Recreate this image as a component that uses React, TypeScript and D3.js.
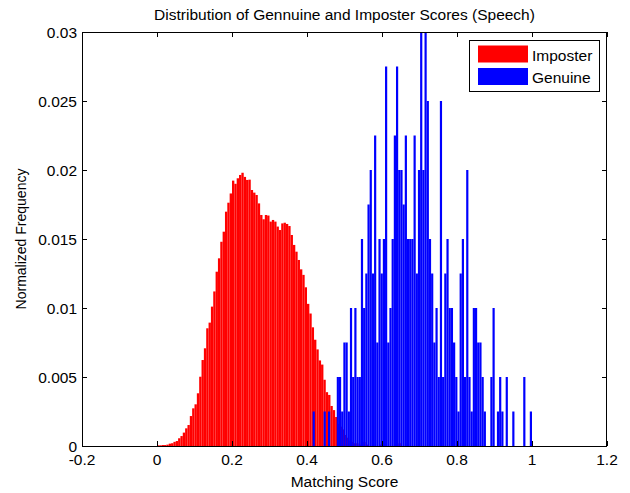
import React from "react";
import * as d3 from "d3";

// ---- data ----
const title = "Distribution of Gennuine and Imposter Scores (Speech)";
const xLabel = "Matching Score";
const yLabel = "Normalized Frequency";
const xTicks = [-0.2, 0, 0.2, 0.4, 0.6, 0.8, 1, 1.2];
const yTicks = [0, 0.005, 0.01, 0.015, 0.02, 0.025, 0.03];
const seriesNames = ["Imposter", "Genuine"];
const seriesColors = ["#ff0000", "#0000ff"];

// Imposter histogram: bins start at 0, width 0.00625
const imposterStart = 0;
const imposterBinWidth = 0.00625;
const imposter = [
  0.00005, 0.00005, 0.00007, 0.00007, 0.0001, 0.00017, 0.0002, 0.0003, 0.00036, 0.00056,
  0.00072, 0.00097, 0.00128, 0.00152, 0.00217, 0.00273, 0.00302, 0.00382, 0.00502, 0.00623,
  0.00708, 0.00853, 0.00894, 0.0101, 0.0112, 0.01263, 0.0136, 0.0148, 0.01553, 0.01698,
  0.01763, 0.0183, 0.01923, 0.019, 0.0194, 0.01964, 0.0198, 0.0195, 0.01928, 0.0193,
  0.01855, 0.01836, 0.01819, 0.01758, 0.01674, 0.01643, 0.01674, 0.0167, 0.01626, 0.01638,
  0.01626, 0.0159, 0.01565, 0.01613, 0.01618, 0.01609, 0.01594, 0.01529, 0.01457, 0.01408,
  0.01348, 0.0128, 0.0124, 0.0115, 0.0103, 0.0096, 0.0086, 0.0077, 0.007, 0.0062,
  0.0059, 0.0048, 0.0039, 0.0037, 0.0029, 0.0026, 0.0021, 0.0016, 0.0014, 0.0012,
  0.0008, 0.0006, 0.0004, 0.0003, 0.0002, 0.0002, 0.0001, 0.0003, 0.0003, 0.0001,
  0, 0, 0, 0, 0, 0.0001, 0, 0, 0, 0,
  0, 0, 0.0001, 0.0002, 0,
];

// Genuine histogram: bins start at 0.415, width 0.00585
const genuineStart = 0.415;
const genuineBinWidth = 0.00585;
const genuine = [
  0.0025, 0, 0, 0, 0, 0.0025, 0, 0.0025, 0, 0,
  0, 0.005, 0.005, 0.0025, 0.0075, 0.0075, 0.0025, 0.01, 0.005, 0.01,
  0.005, 0.005, 0.015, 0.01, 0.0125, 0.0175, 0.02, 0.0125, 0.0225, 0.0075,
  0.015, 0.0125, 0.015, 0.0275, 0.0075, 0.01, 0.015, 0.0225, 0.0275, 0.02,
  0.02, 0.0175, 0.0225, 0.015, 0.015, 0.015, 0.0225, 0.0125, 0.02, 0.0325,
  0.02, 0.0325, 0.025, 0.015, 0.0125, 0.0075, 0.01, 0.005, 0.025, 0.005,
  0.0125, 0.015, 0.01, 0.01, 0.0075, 0.005, 0.0025, 0.0125, 0.015, 0.005,
  0.02, 0.005, 0.0025, 0.01, 0.01, 0.0075, 0.0075, 0.005, 0.0025, 0,
  0, 0.005, 0.01, 0, 0.0025, 0.005, 0.0025, 0, 0.005, 0,
  0, 0.0025, 0, 0, 0, 0, 0.005, 0, 0, 0.0025,
];

const W = 630;
const H = 493;
const m = { left: 82, right: 23, top: 32, bottom: 47 };
const FONT = "'Liberation Sans', Arial, Helvetica, sans-serif";

export default function App() {
  const x = d3.scaleLinear().domain([-0.2, 1.2]).range([m.left, W - m.right]);
  const y = d3.scaleLinear().domain([0, 0.03]).range([H - m.bottom, m.top]);
  const [x0, x1] = x.range();
  const [y0, y1] = y.range();
  const tick = 5;

  const bars = (vals: number[], start: number, bw: number, color: string, key: string) =>
    vals.map((v, i) =>
      v > 0 ? (
        <rect
          key={key + i}
          x={x(start + i * bw)}
          y={y(v)}
          width={x(start + (i + 1) * bw) - x(start + i * bw)}
          height={y(0) - y(v)}
          fill={color}
        />
      ) : null
    );

  return (
    <svg
      width={W}
      height={H}
      style={{ position: "absolute", left: 0, top: 0, display: "block", background: "#fff" }}
      fontFamily={FONT}
    >
      <rect x={0} y={0} width={W} height={H} fill="#fff" />
      <defs>
        <clipPath id="plot">
          <rect x={x0} y={y1} width={x1 - x0} height={y0 - y1} />
        </clipPath>
      </defs>
      <g clipPath="url(#plot)">
        {bars(imposter, imposterStart, imposterBinWidth, seriesColors[0], "r")}
        {bars(genuine, genuineStart, genuineBinWidth, seriesColors[1], "b")}
      </g>
      {/* ticks */}
      <g stroke="#000" strokeWidth={1}>
        {xTicks.map((t) => (
          <g key={"xt" + t}>
            <line x1={Math.round(x(t)) + 0.5} x2={Math.round(x(t)) + 0.5} y1={y0} y2={y0 - tick} />
            <line x1={Math.round(x(t)) + 0.5} x2={Math.round(x(t)) + 0.5} y1={y1} y2={y1 + tick} />
          </g>
        ))}
        {yTicks.map((t) => (
          <g key={"yt" + t}>
            <line x1={x0} x2={x0 + tick} y1={Math.round(y(t)) + 0.5} y2={Math.round(y(t)) + 0.5} />
            <line x1={x1} x2={x1 - tick} y1={Math.round(y(t)) + 0.5} y2={Math.round(y(t)) + 0.5} />
          </g>
        ))}
      </g>
      <rect
        x={x0 + 0.5}
        y={y1 + 0.5}
        width={x1 - x0 - 1}
        height={y0 - y1}
        fill="none"
        stroke="#000"
        strokeWidth={1}
      />
      {/* tick labels */}
      <g fontSize={15.5} fill="#000">
        {xTicks.map((t) => (
          <text key={"xl" + t} x={x(t)} y={y0 + 19} textAnchor="middle">
            {d3.format("~g")(t).replace("−", "-")}
          </text>
        ))}
        {yTicks.map((t) => (
          <text key={"yl" + t} x={x0 - 5} y={y(t) + 5.5} textAnchor="end">
            {d3.format("~g")(t)}
          </text>
        ))}
      </g>
      <text x={(x0 + x1) / 2} y={20} textAnchor="middle" fontSize={15.5}>
        {title}
      </text>
      <text x={(x0 + x1) / 2} y={H - 6} textAnchor="middle" fontSize={15.5}>
        {xLabel}
      </text>
      <text
        transform={`translate(26,${(y0 + y1) / 2}) rotate(-90)`}
        textAnchor="middle"
        fontSize={14}
      >
        {yLabel}
      </text>
      {/* legend */}
      <g>
        <rect x={469.5} y={40.5} width={130} height={51} fill="#fff" stroke="#000" strokeWidth={1} />
        {seriesNames.map((n, i) => (
          <g key={n}>
            <rect x={478} y={45.5 + i * 22.5} width={50} height={17} fill={seriesColors[i]} />
            <text x={532} y={60.5 + i * 22.5} fontSize={15.5}>
              {n}
            </text>
          </g>
        ))}
      </g>
    </svg>
  );
}
